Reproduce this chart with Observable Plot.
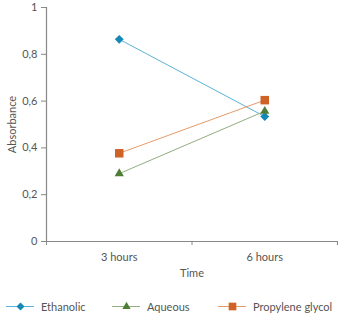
<!DOCTYPE html>
<html><head><meta charset="utf-8">
<script src="https://cdn.jsdelivr.net/npm/d3@7"></script>
<script src="https://cdn.jsdelivr.net/npm/@observablehq/plot@0.6"></script>
<style>
body{margin:0;background:#fff;font-family:Lato,sans-serif;}
#legend{height:32px;font-size:11px;color:#555;}
.item{display:flex;align-items:center;position:absolute;top:9px;}
</style></head>
<body><div id="chart" style="position:relative;width:340px"></div>
<div id="legend" style="position:relative;width:340px"></div>
<script>
const times = ["3 hours", "6 hours"];
const seriesNames = ["Ethanolic", "Aqueous", "Propylene glycol"];
const ethanolic = [0.864, 0.534];
const aqueous = [0.29, 0.557];
const propylene = [0.377, 0.604];
const yTicks = [0, 0.2, 0.4, 0.6, 0.8, 1];

const lineColors = ["#5ab3d6", "#93ad80", "#e69b6b"];
const dotColors = ["#1588b6", "#4e7e36", "#cf6227"];
const symbols = ["diamond2", "triangle", "square"];
const dotR = [4, 3.4, 4.8];

const allVals = [ethanolic, aqueous, propylene];
const data = [];
seriesNames.forEach((s, si) => allVals[si].forEach((v, i) => data.push({series: s, si, t: i + 0.5, v})));

const fmt = d => String(d).replace(".", ",");
const plot = Plot.plot({
  width: 340, height: 290,
  marginLeft: 46, marginRight: 3, marginTop: 7, marginBottom: 49,
  style: {fontFamily: "Lato, sans-serif", fontSize: "11px", color: "#555", overflow: "visible"},
  x: {domain: [0, times.length], label: null},
  y: {domain: [0, 1], label: null},
  r: {type: "identity"},
  marks: [
    Plot.ruleY([0], {stroke: "#888", strokeWidth: 1.2}),
    Plot.ruleX([0], {stroke: "#888", strokeWidth: 1.2}),
    Plot.axisY({ticks: yTicks, tickFormat: fmt, tickSize: 5, tickPadding: 4, stroke: "#888", fill: "#555",
      label: "Absorbance", labelAnchor: "center", labelOffset: 38, labelArrow: "none"}),
    Plot.axisX({ticks: d3.range(times.length + 1), tickFormat: () => "", tickSize: 4, stroke: "#888", label: null}),
    Plot.axisX({ticks: times.map((d, i) => i + 0.5), tickFormat: d => times[Math.floor(d)], tickSize: 0, tickPadding: 12, fill: "#555",
      label: "Time", labelAnchor: "center", labelOffset: 35, labelArrow: "none"}),
    Plot.line(data, {x: "t", y: "v", z: "series", stroke: d => lineColors[d.si], strokeWidth: 1}),
    Plot.dot(data, {x: "t", y: "v", symbol: d => symbols[d.si], fill: d => dotColors[d.si], stroke: "none", r: d => dotR[d.si]})
  ],
  symbol: {type: "identity"}
});
document.getElementById("chart").appendChild(plot);

const legend = document.getElementById("legend");
const lx = [6, 112, 218];
seriesNames.forEach((s, i) => {
  const item = document.createElement("div");
  item.className = "item";
  item.style.left = lx[i] + "px";
  const sw = Plot.plot({
    width: 28, height: 14, margin: 0, axis: null,
    x: {domain: [0, 1]}, y: {domain: [0, 1]},
    symbol: {type: "identity"}, r: {type: "identity"},
    marks: [
      Plot.ruleY([0.5], {stroke: lineColors[i], strokeWidth: 1}),
      Plot.dot([0.5], {x: d => d, y: 0.5, symbol: symbols[i], fill: dotColors[i], r: dotR[i] * 0.9})
    ]
  });
  item.appendChild(sw);
  const t = document.createElement("span");
  t.textContent = s;
  t.style.marginLeft = "7px";
  item.appendChild(t);
  legend.appendChild(item);
});
</script></body></html>
